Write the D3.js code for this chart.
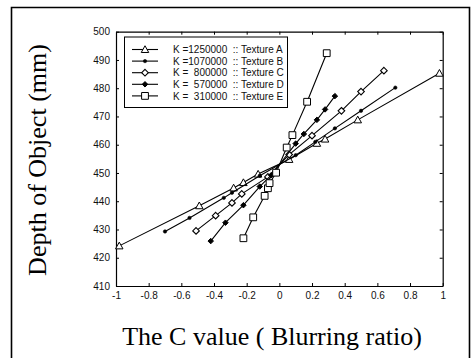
<!DOCTYPE html>
<html>
<head>
<meta charset="utf-8">
<script src="https://cdn.jsdelivr.net/npm/d3@7"></script>
<style>
  body { margin: 0; background: #fff; }
  svg { display: block; }
</style>
</head>
<body>
<div id="chart"></div>
<script>
// 图例文字
var legendLabels = [
  "K =1250000  :: Texture A",
  "K =1070000  :: Texture B",
  "K =  800000  :: Texture C",
  "K =  570000  :: Texture D",
  "K =  310000  :: Texture E"
];
// 每条曲线的 C 值和深度
var cA = [-0.98, -0.49, -0.28, -0.22, -0.13, 0.06, 0.23, 0.28, 0.48, 0.98];
var dA = [424.2, 438.4, 444.7, 446.6, 449.6, 454.8, 460.5, 462.0, 468.8, 485.3];
var cB = [-0.70, -0.55, -0.34, -0.29, -0.12, 0.10, 0.22, 0.34, 0.50, 0.71];
var dB = [429.3, 434.1, 441.2, 443.0, 449.0, 456.3, 461.0, 465.8, 472.0, 480.2];
var cC = [-0.51, -0.39, -0.29, -0.23, -0.07, 0.06, 0.20, 0.38, 0.50, 0.64];
var dC = [429.5, 434.9, 439.4, 442.6, 448.6, 456.5, 463.2, 472.0, 478.8, 486.2];
var cD = [-0.42, -0.33, -0.22, -0.12, -0.05, 0.10, 0.15, 0.23, 0.28, 0.34];
var dD = [425.9, 432.4, 438.6, 445.2, 449.2, 460.4, 463.8, 468.8, 472.5, 477.2];
var cE = [-0.22, -0.16, -0.09, -0.07, -0.06, -0.02, 0.045, 0.08, 0.17, 0.29];
var dE = [426.9, 434.3, 441.9, 444.6, 446.4, 450.1, 459.0, 463.4, 475.2, 492.4];
var xTicks = [-1, -0.8, -0.6, -0.4, -0.2, 0, 0.2, 0.4, 0.6, 0.8, 1];
var yTicks = [410, 420, 430, 440, 450, 460, 470, 480, 490, 500];

var W = 473, H = 358;
var pLeft = 116, pRight = 442.7, pTop = 31.7, pBottom = 286;

var svg = d3.select("#chart").append("svg").attr("width", W).attr("height", H);

// 外框
svg.append("path")
  .attr("d", "M11.5,362V7.5H469.5V362")
  .attr("fill", "none").attr("stroke", "#000").attr("stroke-width", 1.6);

var x = d3.scaleLinear().domain([-1, 1]).range([pLeft, pRight]);
var y = d3.scaleLinear().domain([410, 500]).range([pBottom, pTop]);

function fmt(d) { return d === 0 ? "0" : String(d); }

var tickFont = "'Liberation Sans', Arial, sans-serif";

// 四边坐标轴，刻度朝内
var axB = svg.append("g").attr("transform", "translate(0," + pBottom + ")")
  .call(d3.axisBottom(x).tickValues(xTicks).tickFormat(fmt).tickSizeInner(-3).tickSizeOuter(0).tickPadding(6));
var axL = svg.append("g").attr("transform", "translate(" + pLeft + ",0)")
  .call(d3.axisLeft(y).tickValues(yTicks).tickSizeInner(-3).tickSizeOuter(0).tickPadding(6));
var axT = svg.append("g").attr("transform", "translate(0," + pTop + ")")
  .call(d3.axisTop(x).tickValues(xTicks).tickFormat("").tickSizeInner(-3).tickSizeOuter(0));
var axR = svg.append("g").attr("transform", "translate(" + pRight + ",0)")
  .call(d3.axisRight(y).tickValues(yTicks).tickFormat("").tickSizeInner(-3).tickSizeOuter(0));

[axB, axL, axT, axR].forEach(function (g) {
  g.select(".domain").attr("stroke", "#000").attr("stroke-width", 1.2);
  g.selectAll(".tick line").attr("stroke", "#000");
  g.selectAll("text").attr("font-family", tickFont).attr("font-size", 10).attr("fill", "#111");
});

// 自定义 marker 形状
var diamondShape = {
  draw: function (ctx, size) {
    var r = Math.sqrt(size) / 2;
    ctx.moveTo(0, -r); ctx.lineTo(r, 0); ctx.lineTo(0, r); ctx.lineTo(-r, 0); ctx.closePath();
  }
};
var triShape = {
  draw: function (ctx, size) {
    var r = Math.sqrt(size) / 2;
    ctx.moveTo(0, -r); ctx.lineTo(r, r * 0.8); ctx.lineTo(-r, r * 0.8); ctx.closePath();
  }
};

var series = [
  {c: cA, d: dA, shape: triShape, size: 56, fill: "#fff", sw: 1},
  {c: cB, d: dB, shape: d3.symbolCircle, size: 9, fill: "#000", sw: 0.6},
  {c: cC, d: dC, shape: diamondShape, size: 44, fill: "#fff", sw: 1.1},
  {c: cD, d: dD, shape: diamondShape, size: 30, fill: "#000", sw: 1},
  {c: cE, d: dE, shape: d3.symbolSquare, size: 46, fill: "#fff", sw: 1}
];

var line = d3.line().x(function (p) { return x(p[0]); }).y(function (p) { return y(p[1]); });

var plot = svg.append("g");
series.forEach(function (s) {
  var pts = s.c.map(function (v, i) { return [v, s.d[i]]; });
  plot.append("path").attr("d", line(pts))
    .attr("fill", "none").attr("stroke", "#000").attr("stroke-width", 1.1);
  plot.selectAll(null).data(pts).enter().append("path")
    .attr("transform", function (p) { return "translate(" + x(p[0]) + "," + y(p[1]) + ")"; })
    .attr("d", d3.symbol().type(s.shape).size(s.size))
    .attr("fill", s.fill).attr("stroke", "#000").attr("stroke-width", s.sw);
});

// 图例
var lg = svg.append("g");
lg.append("rect").attr("x", 124.5).attr("y", 37).attr("width", 163).attr("height", 70.5)
  .attr("fill", "#fff").attr("stroke", "#000").attr("stroke-width", 1);
legendLabels.forEach(function (t, i) {
  var ly = 49.5 + i * 11.6;
  var s = series[i];
  lg.append("line").attr("x1", 132).attr("x2", 158).attr("y1", ly).attr("y2", ly)
    .attr("stroke", "#000").attr("stroke-width", 1.1);
  lg.append("path").attr("transform", "translate(145," + ly + ")")
    .attr("d", d3.symbol().type(s.shape).size(s.size))
    .attr("fill", s.fill).attr("stroke", "#000").attr("stroke-width", s.sw);
  lg.append("text").attr("x", 173).attr("y", ly + 3.6)
    .attr("font-family", tickFont).attr("font-size", 10).attr("fill", "#111")
    .style("white-space", "pre").text(t);
});

// 轴标题
svg.append("text")
  .attr("transform", "translate(46,160) rotate(-90)")
  .attr("text-anchor", "middle")
  .attr("font-family", "'Liberation Serif', 'Times New Roman', serif")
  .attr("font-size", 26).attr("fill", "#000")
  .text("Depth of Object (mm)");
svg.append("text")
  .attr("x", 272).attr("y", 345)
  .attr("text-anchor", "middle")
  .attr("font-family", "'Liberation Serif', 'Times New Roman', serif")
  .attr("font-size", 26).attr("fill", "#000")
  .text("The C value ( Blurring ratio)");
</script>
</body>
</html>
